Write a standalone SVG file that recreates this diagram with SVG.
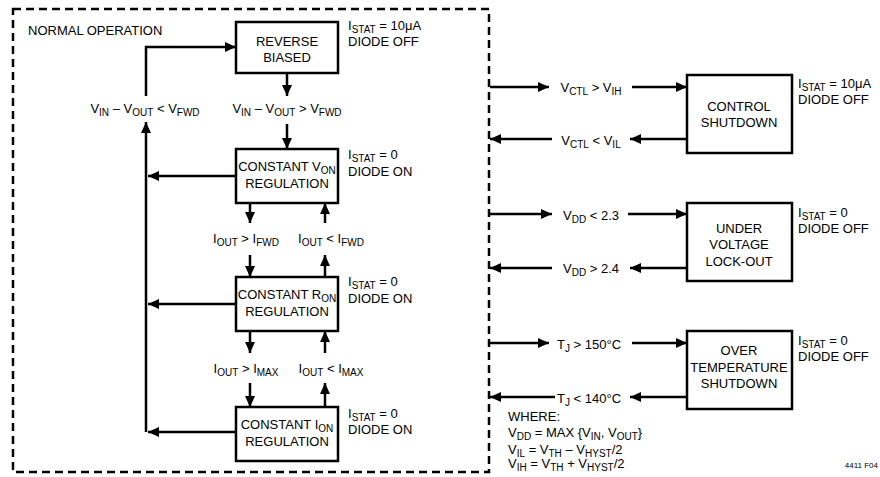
<svg xmlns="http://www.w3.org/2000/svg" width="880" height="477" viewBox="0 0 880 477">
<style>
text{font-family:"Liberation Sans",Arial,sans-serif;font-size:13px;fill:#000}
.m{text-anchor:middle}
.s{font-size:10px}
.box{fill:#fff;stroke:#000;stroke-width:2.5}
.ln{fill:none;stroke:#000;stroke-width:2.5}
.frame{fill:none;stroke:#000;stroke-width:2.5;stroke-dasharray:8,5}
.note{font-size:8px}
</style>
<defs>
<marker id="ah" markerUnits="userSpaceOnUse" markerWidth="11" markerHeight="10" refX="11" refY="5" orient="auto">
<path d="M0,0 L11,5 L0,10 z" fill="#000"/>
</marker>
</defs>

<rect class="frame" x="13" y="9" width="476" height="463"/>
<text x="28" y="35">NORMAL OPERATION</text>

<g id="connectors">
<!-- left loop -->
<path class="ln" d="M146,96 L146,47 L236,47" marker-end="url(#ah)"/>
<path class="ln" d="M146,432 L146,122" marker-end="url(#ah)"/>
<path class="ln" d="M236,176 L148,176" marker-end="url(#ah)"/>
<path class="ln" d="M236,304 L148,304" marker-end="url(#ah)"/>
<path class="ln" d="M236,432 L148,432" marker-end="url(#ah)"/>
<!-- reverse to Von -->
<path class="ln" d="M287,73 L287,96" marker-end="url(#ah)"/>
<path class="ln" d="M287,124 L287,149" marker-end="url(#ah)"/>
<!-- Von <-> Ron -->
<path class="ln" d="M250,203 L250,223" marker-end="url(#ah)"/>
<path class="ln" d="M250,255 L250,277" marker-end="url(#ah)"/>
<path class="ln" d="M325,223 L325,203" marker-end="url(#ah)"/>
<path class="ln" d="M325,277 L325,255" marker-end="url(#ah)"/>
<!-- Ron <-> Ion -->
<path class="ln" d="M250,331 L250,353" marker-end="url(#ah)"/>
<path class="ln" d="M250,383 L250,407" marker-end="url(#ah)"/>
<path class="ln" d="M325,353 L325,331" marker-end="url(#ah)"/>
<path class="ln" d="M325,407 L325,383" marker-end="url(#ah)"/>
<!-- control shutdown -->
<path class="ln" d="M490,87 L549,87" marker-end="url(#ah)"/>
<path class="ln" d="M632,87 L687,87" marker-end="url(#ah)"/>
<path class="ln" d="M687,139 L630,139" marker-end="url(#ah)"/>
<path class="ln" d="M552,139 L490,139" marker-end="url(#ah)"/>
<!-- UVLO -->
<path class="ln" d="M490,214 L552,214" marker-end="url(#ah)"/>
<path class="ln" d="M628,214 L687,214" marker-end="url(#ah)"/>
<path class="ln" d="M687,268 L630,268" marker-end="url(#ah)"/>
<path class="ln" d="M552,268 L490,268" marker-end="url(#ah)"/>
<!-- over temp -->
<path class="ln" d="M490,343 L549,343" marker-end="url(#ah)"/>
<path class="ln" d="M632,343 L687,343" marker-end="url(#ah)"/>
<path class="ln" d="M687,397 L630,397" marker-end="url(#ah)"/>
<path class="ln" d="M555,397 L490,397" marker-end="url(#ah)"/>

<!-- labels -->
<text class="m" x="145" y="113">V<tspan class="s" dy="3">IN</tspan><tspan dy="-3"> – V</tspan><tspan class="s" dy="3">OUT</tspan><tspan dy="-3"> &lt; V</tspan><tspan class="s" dy="3">FWD</tspan></text>
<text class="m" x="287" y="113">V<tspan class="s" dy="3">IN</tspan><tspan dy="-3"> – V</tspan><tspan class="s" dy="3">OUT</tspan><tspan dy="-3"> &gt; V</tspan><tspan class="s" dy="3">FWD</tspan></text>
<text class="m" x="246" y="243">I<tspan class="s" dy="3">OUT</tspan><tspan dy="-3"> &gt; I</tspan><tspan class="s" dy="3">FWD</tspan></text>
<text class="m" x="331" y="243">I<tspan class="s" dy="3">OUT</tspan><tspan dy="-3"> &lt; I</tspan><tspan class="s" dy="3">FWD</tspan></text>
<text class="m" x="246" y="373">I<tspan class="s" dy="3">OUT</tspan><tspan dy="-3"> &gt; I</tspan><tspan class="s" dy="3">MAX</tspan></text>
<text class="m" x="331" y="373">I<tspan class="s" dy="3">OUT</tspan><tspan dy="-3"> &lt; I</tspan><tspan class="s" dy="3">MAX</tspan></text>
<text class="m" x="591" y="92">V<tspan class="s" dy="3">CTL</tspan><tspan dy="-3"> &gt; V</tspan><tspan class="s" dy="3">IH</tspan></text>
<text class="m" x="591" y="145">V<tspan class="s" dy="3">CTL</tspan><tspan dy="-3"> &lt; V</tspan><tspan class="s" dy="3">IL</tspan></text>
<text class="m" x="591" y="220">V<tspan class="s" dy="3">DD</tspan><tspan dy="-3"> &lt; 2.3</tspan></text>
<text class="m" x="591" y="273">V<tspan class="s" dy="3">DD</tspan><tspan dy="-3"> &gt; 2.4</tspan></text>
<text class="m" x="589" y="349">T<tspan class="s" dy="3">J</tspan><tspan dy="-3"> &gt; 150°C</tspan></text>
<text class="m" x="589" y="403">T<tspan class="s" dy="3">J</tspan><tspan dy="-3"> &lt; 140°C</tspan></text>
</g>

<g id="reverse-biased">
<rect class="box" x="236" y="22" width="102" height="51"/>
<text class="m" x="287" y="46">REVERSE</text>
<text class="m" x="287" y="62">BIASED</text>
<text x="348" y="30">I<tspan class="s" dy="3">STAT</tspan><tspan dy="-3"> = 10μA</tspan></text>
<text x="348" y="46">DIODE OFF</text>
</g>

<g id="constant-von">
<rect class="box" x="236" y="149" width="102" height="54"/>
<text class="m" x="287" y="171">CONSTANT V<tspan class="s" dy="3">ON</tspan></text>
<text class="m" x="287" y="188">REGULATION</text>
<text x="348" y="159">I<tspan class="s" dy="3">STAT</tspan><tspan dy="-3"> = 0</tspan></text>
<text x="348" y="176">DIODE ON</text>
</g>

<g id="constant-ron">
<rect class="box" x="236" y="277" width="102" height="54"/>
<text class="m" x="287" y="299">CONSTANT R<tspan class="s" dy="3">ON</tspan></text>
<text class="m" x="287" y="316">REGULATION</text>
<text x="348" y="286">I<tspan class="s" dy="3">STAT</tspan><tspan dy="-3"> = 0</tspan></text>
<text x="348" y="303">DIODE ON</text>
</g>

<g id="constant-ion">
<rect class="box" x="236" y="407" width="102" height="54"/>
<text class="m" x="287" y="429">CONSTANT I<tspan class="s" dy="3">ON</tspan></text>
<text class="m" x="287" y="446">REGULATION</text>
<text x="348" y="418">I<tspan class="s" dy="3">STAT</tspan><tspan dy="-3"> = 0</tspan></text>
<text x="348" y="434">DIODE ON</text>
</g>

<g id="control-shutdown">
<rect class="box" x="687" y="75" width="105" height="78"/>
<text class="m" x="739" y="111">CONTROL</text>
<text class="m" x="739" y="127">SHUTDOWN</text>
<text x="798" y="88">I<tspan class="s" dy="3">STAT</tspan><tspan dy="-3"> = 10μA</tspan></text>
<text x="798" y="104">DIODE OFF</text>
</g>

<g id="under-voltage">
<rect class="box" x="687" y="203" width="105" height="78"/>
<text class="m" x="739" y="233">UNDER</text>
<text class="m" x="739" y="249">VOLTAGE</text>
<text class="m" x="739" y="266">LOCK-OUT</text>
<text x="798" y="217">I<tspan class="s" dy="3">STAT</tspan><tspan dy="-3"> = 0</tspan></text>
<text x="798" y="233">DIODE OFF</text>
</g>

<g id="over-temperature">
<rect class="box" x="687" y="331" width="105" height="78"/>
<text class="m" x="739" y="355">OVER</text>
<text class="m" x="739" y="372">TEMPERATURE</text>
<text class="m" x="739" y="388">SHUTDOWN</text>
<text x="798" y="345">I<tspan class="s" dy="3">STAT</tspan><tspan dy="-3"> = 0</tspan></text>
<text x="798" y="361">DIODE OFF</text>
</g>

<g id="where">
<text x="508" y="421">WHERE:</text>
<text x="508" y="437">V<tspan class="s" dy="3">DD</tspan><tspan dy="-3"> = MAX {V</tspan><tspan class="s" dy="3">IN</tspan><tspan dy="-3">, V</tspan><tspan class="s" dy="3">OUT</tspan><tspan dy="-3">}</tspan></text>
<text x="508" y="454">V<tspan class="s" dy="3">IL</tspan><tspan dy="-3"> = V</tspan><tspan class="s" dy="3">TH</tspan><tspan dy="-3"> – V</tspan><tspan class="s" dy="3">HYST</tspan><tspan dy="-3">/2</tspan></text>
<text x="508" y="468">V<tspan class="s" dy="3">IH</tspan><tspan dy="-3"> = V</tspan><tspan class="s" dy="3">TH</tspan><tspan dy="-3"> + V</tspan><tspan class="s" dy="3">HYST</tspan><tspan dy="-3">/2</tspan></text>
</g>
<text class="note" x="878" y="468" text-anchor="end">4411 F04</text>
</svg>
